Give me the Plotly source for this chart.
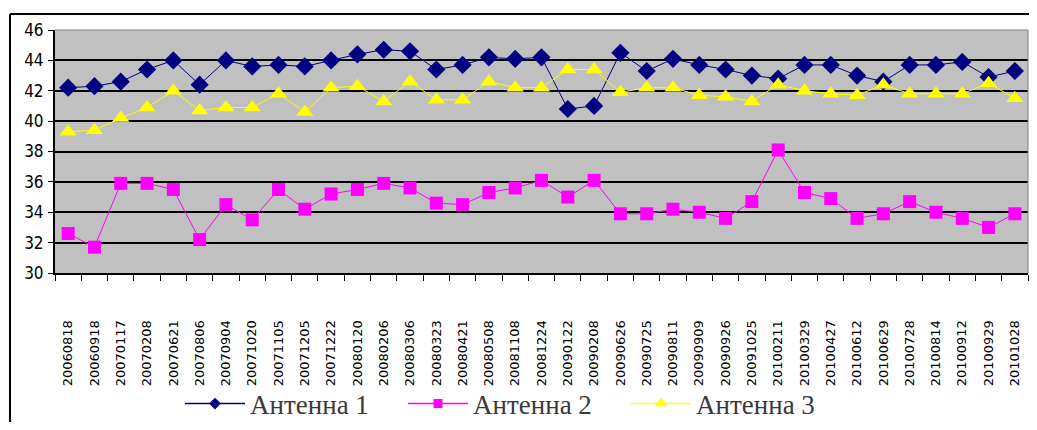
import plotly.graph_objects as go

dates = ["20060818", "20060918", "20070117", "20070208", "20070621", "20070806",
         "20070904", "20071020", "20071105", "20071205", "20071222", "20080120",
         "20080206", "20080306", "20080323", "20080421", "20080508", "20081108",
         "20081224", "20090122", "20090208", "20090626", "20090725", "20090811",
         "20090909", "20090926", "20091025", "20100211", "20100329", "20100427",
         "20100612", "20100629", "20100728", "20100814", "20100912", "20100929",
         "20101028"]

antenna1 = [42.2, 42.3, 42.6, 43.4, 44.0, 42.4, 44.0, 43.6, 43.7, 43.6, 44.0, 44.4,
            44.7, 44.6, 43.4, 43.7, 44.2, 44.1, 44.2, 40.8, 41.0, 44.5, 43.3, 44.1,
            43.7, 43.4, 43.0, 42.8, 43.7, 43.7, 43.0, 42.6, 43.7, 43.7, 43.9, 42.9,
            43.3]

antenna2 = [32.6, 31.7, 35.9, 35.9, 35.5, 32.2, 34.5, 33.5, 35.5, 34.2, 35.2, 35.5,
            35.9, 35.6, 34.6, 34.5, 35.3, 35.6, 36.1, 35.0, 36.1, 33.9, 33.9, 34.2,
            34.0, 33.6, 34.7, 38.1, 35.3, 34.9, 33.6, 33.9, 34.7, 34.0, 33.6, 33.0,
            33.9]

antenna3 = [39.3, 39.4, 40.2, 40.9, 42.0, 40.7, 40.9, 40.9, 41.8, 40.6, 42.2, 42.3,
            41.3, 42.6, 41.4, 41.4, 42.6, 42.2, 42.2, 43.4, 43.4, 41.9, 42.2, 42.2,
            41.7, 41.6, 41.3, 42.4, 42.0, 41.8, 41.7, 42.4, 41.8, 41.8, 41.8, 42.5,
            41.5]

names = ["Антенна 1", "Антенна 2", "Антенна 3"]
y_ticks = [30, 32, 34, 36, 38, 40, 42, 44, 46]

colors = ["#000080", "#FF00FF", "#FFFF00"]
symbols = ["diamond", "square", "triangle-up"]
sizes = [14, 13, 15]
legend_sizes = [9, 9, 11]
series = [antenna1, antenna2, antenna3]

fig = go.Figure()
for name, vals, c, s, sz in zip(names, series, colors, symbols, sizes):
    fig.add_trace(go.Scatter(x=dates, y=vals, name=name, mode="lines+markers",
                             showlegend=False,
                             line=dict(color=c, width=1),
                             marker=dict(symbol=s, size=sz, color=c)))
# legend entries with the small sample markers of the original
for name, c, s, sz in zip(names, colors, symbols, legend_sizes):
    fig.add_trace(go.Scatter(x=[None], y=[None], name=name, mode="lines+markers",
                             line=dict(color=c, width=1.5),
                             marker=dict(symbol=s, size=sz, color=c)))

# page body has an 8px margin, so the figure is 16px smaller than the window
OFF = 8
W, H = 1037 - 2 * OFF, 430 - 2 * OFF
ml, mr, mt, mb = 55 - OFF, 1037 - 1028 - OFF, 30 - OFF, 430 - 273 - OFF
pw, ph = W - ml - mr, H - mt - mb

def px(xp):
    return (xp - OFF - ml) / pw

def py(yp):
    return (H - mb - (yp - OFF)) / ph

fig.update_layout(
    width=W, height=H,
    margin=dict(l=ml, r=mr, t=mt, b=mb, pad=0, autoexpand=False),
    paper_bgcolor="white",
    plot_bgcolor="#C0C0C0",
    showlegend=True,
    legend=dict(orientation="h", x=px(180), xanchor="left", y=py(404), yanchor="middle",
                font=dict(family="Liberation Serif, Times New Roman, serif", size=27, color="#3a3a3a"),
                bgcolor="rgba(0,0,0,0)", itemwidth=60, tracegroupgap=0,
                entrywidth=148, entrywidthmode="pixels"),
    xaxis=dict(type="category", tickangle=-90, tickson="boundaries",
               ticks="outside", ticklen=6, tickcolor="black", tickwidth=1,
               showline=True, linecolor="black", linewidth=2,
               showgrid=False, ticklabelstandoff=40,
               tickfont=dict(family="DejaVu Sans, sans-serif", size=13, color="black"),
               range=[-0.5, len(dates) - 0.5]),
    yaxis=dict(range=[30, 46], tickvals=y_ticks, ticks="outside", ticklen=5,
               tickcolor="black", tickwidth=1,
               showline=True, linecolor="black", linewidth=2,
               showgrid=True, gridcolor="black", gridwidth=2,
               zeroline=False, ticklabelstandoff=1,
               tickfont=dict(family="Liberation Sans Narrow, DejaVu Sans Condensed, sans-serif",
                             size=17, color="black")),
    shapes=[
        dict(type="line", xref="paper", yref="paper", x0=0, x1=1, y0=1, y1=1,
             line=dict(color="#808080", width=1)),
        dict(type="line", xref="paper", yref="paper", x0=1, x1=1, y0=0, y1=1,
             line=dict(color="#808080", width=1)),
        dict(type="line", xref="paper", yref="paper", x0=px(10), x1=px(1200),
             y0=py(14), y1=py(14), line=dict(color="black", width=2)),
        dict(type="line", xref="paper", yref="paper", x0=px(10), x1=px(10),
             y0=py(14), y1=py(600), line=dict(color="black", width=2)),
    ],
)

fig.write_html("out.html")
